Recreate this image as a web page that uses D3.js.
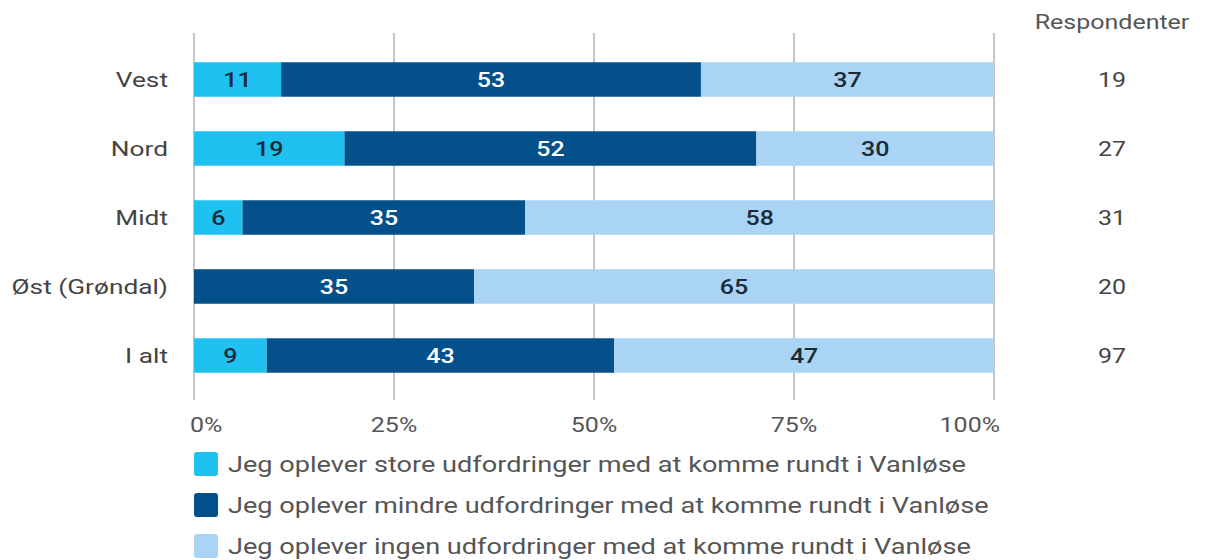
<!DOCTYPE html>
<html>
<head>
<meta charset="utf-8">
<script src="https://cdn.jsdelivr.net/npm/d3@7"></script>
<style>
  body { margin: 0; background: #fff; }
  text { font-family: Roboto, "Open Sans", sans-serif; }
</style>
</head>
<body>
<div id="chart"></div>
<script>
// Categories and series (percent values as printed on the bars)
var categories = ["Vest", "Nord", "Midt", "Øst (Grøndal)", "I alt"];
var store = [11, 19, 6, 0, 9];
var mindre = [53, 52, 35, 35, 43];
var ingen = [37, 30, 58, 65, 47];
var respondenter = [19, 27, 31, 20, 97];
var seriesNames = [
  "Jeg oplever store udfordringer med at komme rundt i Vanløse",
  "Jeg oplever mindre udfordringer med at komme rundt i Vanløse",
  "Jeg oplever ingen udfordringer med at komme rundt i Vanløse"
];
var tickValues = [0, 0.25, 0.5, 0.75, 1];

var svgWidth = 1205;
var svgHeight = 560;
var margin = { top: 45, left: 194, right: 211 };
var width = svgWidth - margin.left - margin.right;

// the reference text is a bit stretched sideways
var stretch = 1.25;

var colors = ["#1fc1f1", "#03508a", "#a9d4f3"];
var keys = ["store", "mindre", "ingen"];

var rows = categories.map(function(c, i) {
  return { cat: c, store: store[i], mindre: mindre[i], ingen: ingen[i], n: respondenter[i] };
});

var stack = d3.stack().keys(keys).offset(d3.stackOffsetExpand);
var layers = stack(rows);

var svg = d3.select("#chart").append("svg")
  .attr("width", svgWidth)
  .attr("height", svgHeight);

var x = d3.scaleLinear().domain([0, 1]).range([margin.left, margin.left + width]);
var y = d3.scaleBand().domain(categories).range([45, 390]).paddingInner(0.5).paddingOuter(0.25);

function place(xf, yf) {
  return function(d, i) {
    return `translate(${xf(d, i)}, ${yf(d, i)}) scale(${stretch}, 1)`;
  };
}

// Gridlines
svg.append("g").selectAll("line")
  .data(tickValues)
  .enter().append("line")
  .attr("x1", d => x(d)).attr("x2", d => x(d))
  .attr("y1", 33).attr("y2", 400)
  .attr("stroke", "#b3b3b3")
  .attr("stroke-width", 1.5);

// Tick labels
svg.append("g").selectAll("text")
  .data(tickValues)
  .enter().append("text")
  .attr("transform", place(
    (d, i) => x(d) + (i === 0 ? -4 : (i === tickValues.length - 1 ? 6 : 0)),
    () => 432))
  .attr("text-anchor", (d, i) => i === 0 ? "start" : (i === tickValues.length - 1 ? "end" : "middle"))
  .attr("font-size", 20)
  .attr("fill", "#555")
  .text(d => d3.format(".0%")(d));

// Bars
var layer = svg.append("g").selectAll("g")
  .data(layers)
  .enter().append("g")
  .attr("fill", (d, i) => colors[i]);

layer.selectAll("rect")
  .data(d => d)
  .enter().append("rect")
  .attr("x", d => x(d[0]))
  .attr("y", d => y(d.data.cat))
  .attr("width", d => x(d[1]) - x(d[0]))
  .attr("height", y.bandwidth());

// Value labels
layers.forEach(function(l, i) {
  svg.append("g").selectAll("text")
    .data(l.filter(d => d.data[l.key] > 0))
    .enter().append("text")
    .attr("transform", place(
      d => (x(d[0]) + x(d[1])) / 2,
      d => y(d.data.cat) + y.bandwidth() / 2))
    .attr("dy", "0.36em")
    .attr("text-anchor", "middle")
    .attr("font-size", 20)
    .attr("font-weight", 500)
    .attr("fill", i === 1 ? "#ffffff" : "#1b2a38")
    .text(d => d.data[l.key]);
});

// Category labels
svg.append("g").selectAll("text")
  .data(categories)
  .enter().append("text")
  .attr("transform", place(
    () => margin.left - 26,
    d => y(d) + y.bandwidth() / 2))
  .attr("dy", "0.36em")
  .attr("text-anchor", "end")
  .attr("font-size", 21)
  .attr("fill", "#444")
  .text(d => d);

// Respondents column
svg.append("text")
  .attr("transform", `translate(1112, 29) scale(${stretch}, 1)`)
  .attr("text-anchor", "middle")
  .attr("font-size", 20)
  .attr("fill", "#555")
  .text("Respondenter");

svg.append("g").selectAll("text")
  .data(rows)
  .enter().append("text")
  .attr("transform", place(
    () => 1112,
    d => y(d.cat) + y.bandwidth() / 2))
  .attr("dy", "0.36em")
  .attr("text-anchor", "middle")
  .attr("font-size", 20)
  .attr("fill", "#444")
  .text(d => d.n);

// Legend
var legend = svg.append("g").selectAll("g")
  .data(seriesNames)
  .enter().append("g")
  .attr("transform", (d, i) => `translate(194, ${452 + i * 41})`);

legend.append("rect")
  .attr("width", 24).attr("height", 24)
  .attr("rx", 3)
  .attr("fill", (d, i) => colors[i]);

legend.append("text")
  .attr("transform", `translate(34, 12) scale(${stretch}, 1)`)
  .attr("dy", "0.36em")
  .attr("font-size", 21.7)
  .attr("fill", "#555")
  .text(d => d);
</script>
</body>
</html>
